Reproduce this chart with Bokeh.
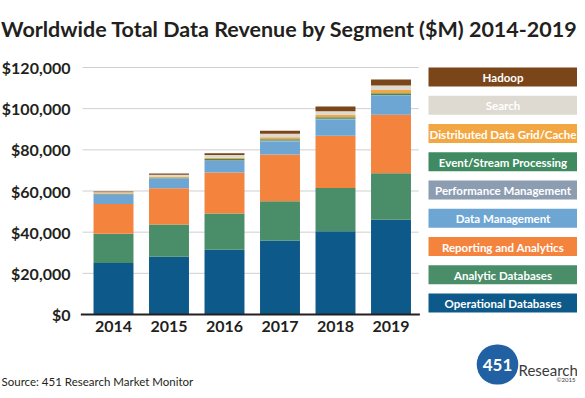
from bokeh.plotting import figure
from bokeh.models import (ColumnDataSource, Range1d, FixedTicker, NumeralTickFormatter,
                          Label, BoxAnnotation)
from bokeh.embed import file_html
from bokeh.resources import INLINE

# ---------------- data ----------------
years = [2014, 2015, 2016, 2017, 2018, 2019]
operational = [25000, 28000, 31500, 36000, 40400, 46000]
analytic = [14200, 15700, 17600, 19000, 21100, 22600]
reporting = [14500, 17600, 19900, 22700, 25400, 28500]
data_mgmt = [4400, 4600, 5600, 6400, 7800, 9200]
perf_mgmt = [300, 300, 400, 400, 400, 400]
event_stream = [200, 300, 500, 700, 700, 800]
dist_grid = [300, 500, 700, 900, 1100, 1600]
search = [500, 900, 1300, 1700, 1900, 2100]
hadoop = [300, 600, 900, 1500, 2300, 3000]

segments = ["Operational Databases", "Analytic Databases", "Reporting and Analytics",
            "Data Management", "Performance Management", "Event/Stream Processing",
            "Distributed Data Grid/Cache", "Search", "Hadoop"]
series = [operational, analytic, reporting, data_mgmt, perf_mgmt, event_stream,
          dist_grid, search, hadoop]
colors = ["#0d5a8a", "#4a8d69", "#f4843d", "#6ea6d3", "#8c9db2", "#3f8a60",
          "#f2a743", "#dedad2", "#7a4519"]
y_ticks = [0, 20000, 40000, 60000, 80000, 100000, 120000]

title_text = "Worldwide Total Data Revenue by Segment ($M) 2014-2019"
source_text = "Source: 451 Research Market Monitor"

FONT = "Lato"
DARK = "#231f20"

W, H = 577, 390
BAR0_PX, BAR_STEP = 113.0, 55.5      # x of first bar centre, px per category
ZERO_PY, PX_PER_UNIT = 314.0, 2.0583 / 1000.0


def dx(px):
    return (px - BAR0_PX) / BAR_STEP


def dy(py):
    return (ZERO_PY - py) / PX_PER_UNIT


x_start, x_end = dx(0), dx(W)
y_start, y_end = dy(H), dy(0)
axis_x = dx(82)

p = figure(width=W, height=H, output_backend="svg", toolbar_location=None,
           x_range=Range1d(x_start, x_end), y_range=Range1d(y_start, y_end),
           min_border=0, min_border_left=0, min_border_right=0,
           min_border_top=0, min_border_bottom=0)
p.outline_line_color = None
p.xgrid.visible = False
p.ygrid.visible = False
p.background_fill_color = "white"
p.border_fill_color = "white"

xs = list(range(len(years)))
data = {"x": xs}
keys = []
for i, s in enumerate(series):
    k = "s%d" % i
    keys.append(k)
    data[k] = s
source = ColumnDataSource(data)

# grid lines (only across the bar area)
grid_y = [t for t in y_ticks if t != 0]
p.segment(x0=[axis_x] * len(grid_y), x1=[len(years) - 0.5] * len(grid_y),
          y0=grid_y, y1=grid_y, line_color="#cfcfcf", line_width=1)

p.vbar_stack(keys, x="x", width=0.72, color=colors, line_color=None, source=source)

# baseline
p.segment(x0=[axis_x - 0.03], x1=[len(years) - 0.5 + 0.02], y0=[0], y1=[0],
          line_color=DARK, line_width=2)

# axes drawn at fixed locations inside the frame
p.yaxis.fixed_location = axis_x
p.yaxis.ticker = FixedTicker(ticks=y_ticks)
p.yaxis.formatter = NumeralTickFormatter(format="$0,0")
p.yaxis.axis_line_color = None
p.yaxis.major_tick_line_color = None
p.yaxis.minor_tick_line_color = None
p.yaxis.major_label_standoff = 6
p.yaxis.major_label_text_font = FONT
p.yaxis.major_label_text_font_style = "bold"
p.yaxis.major_label_text_font_size = "16px"
p.yaxis.major_label_text_color = DARK

p.xaxis.fixed_location = 0
p.xaxis.ticker = FixedTicker(ticks=xs)
p.xaxis.major_label_overrides = {i: str(y) for i, y in zip(xs, years)}
p.xaxis.axis_line_color = None
p.xaxis.major_tick_line_color = None
p.xaxis.minor_tick_line_color = None
p.xaxis.major_label_standoff = 0
p.xaxis.major_label_text_font = FONT
p.xaxis.major_label_text_font_style = "bold"
p.xaxis.major_label_text_font_size = "16px"
p.xaxis.major_label_text_color = DARK


# screen units relative to the frame (= whole figure): x from left, y from bottom
def sx(px):
    return px


def sy(py):
    return H - py


# title
p.add_layout(Label(x=sx(289), y=sy(28), x_units="screen", y_units="screen",
                   text=title_text, text_font=FONT, text_font_style="bold",
                   text_font_size="21.5px", text_color=DARK,
                   text_align="center", text_baseline="alphabetic"))

# legend (top = last segment)
for j, idx in enumerate(reversed(range(len(segments)))):
    top = 67 + 28.25 * j
    p.add_layout(BoxAnnotation(left=sx(428), right=sx(577), top=sy(top), bottom=sy(top + 19),
                               left_units="screen", right_units="screen",
                               top_units="screen", bottom_units="screen",
                               fill_color=colors[idx], fill_alpha=1.0, line_color=None))
    p.add_layout(Label(x=sx(502.5), y=sy(top + 10), x_units="screen", y_units="screen",
                       text=segments[idx], text_font=FONT, text_font_style="bold",
                       text_font_size="11.5px", text_color="white",
                       text_align="center", text_baseline="middle"))

# source
p.add_layout(Label(x=sx(1), y=sy(381), x_units="screen", y_units="screen",
                   text=source_text, text_font=FONT, text_font_size="11.5px",
                   text_color=DARK, text_baseline="alphabetic"))

# logo
p.add_layout(Label(x=sx(497), y=sy(364), x_units="screen", y_units="screen",
                   text="451", text_font=FONT, text_font_style="bold",
                   text_font_size="17px", text_color="white",
                   text_align="center", text_baseline="middle",
                   background_fill_color="#2161a3",
                   padding=dict(left=6, right=6, top=14, bottom=14),
                   border_radius=20))
p.add_layout(Label(x=sx(518), y=sy(369), x_units="screen", y_units="screen",
                   text="Research", text_font=FONT, text_font_size="15px",
                   text_color="#3a3a3a", text_baseline="alphabetic"))
p.add_layout(Label(x=sx(575), y=sy(379), x_units="screen", y_units="screen",
                   text="©2015", text_font=FONT, text_font_size="6px",
                   text_color="#3a3a3a", text_align="right",
                   text_baseline="alphabetic"))

open("out.html", "w").write(file_html(p, INLINE))
